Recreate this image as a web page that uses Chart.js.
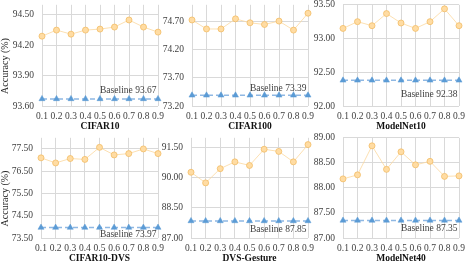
<!DOCTYPE html>
<html>
<head>
<meta charset="utf-8">
<script src="https://cdn.jsdelivr.net/npm/chart.js@4.4.1/dist/chart.umd.min.js"></script>
<style>
  html, body { margin: 0; padding: 0; background: #fff; }
  #wrap { position: relative; width: 465px; height: 263px; overflow: hidden; }
  #wrap canvas { position: absolute; }
</style>
</head>
<body>
<div id="wrap"></div>
<script>
// Datos
const xLabels = ['0.1', '0.2', '0.3', '0.4', '0.5', '0.6', '0.7', '0.8', '0.9'];
const datasetNames = ['CIFAR10', 'CIFAR100', 'ModelNet10', 'CIFAR10-DVS', 'DVS-Gesture', 'ModelNet40'];

const cifar10Acc    = [94.29, 94.35, 94.31, 94.35, 94.36, 94.38, 94.45, 94.38, 94.33];
const cifar100Acc   = [74.73, 74.57, 74.57, 74.75, 74.68, 74.65, 74.71, 74.55, 74.85];
const modelnet10Acc = [93.15, 93.25, 93.19, 93.37, 93.23, 93.15, 93.25, 93.44, 93.19];
const cifar10DvsAcc = [77.10, 76.87, 77.07, 77.03, 77.57, 77.23, 77.29, 77.50, 77.29];
const dvsGestureAcc = [90.28, 89.75, 90.46, 90.80, 90.62, 91.43, 91.32, 90.80, 91.66];
const modelnet40Acc = [88.18, 88.26, 88.84, 88.37, 88.72, 88.46, 88.53, 88.23, 88.24];

const baselines = [93.67, 73.39, 92.38, 73.97, 87.85, 87.35];

const yTicks = [
    [93.60, 93.90, 94.20, 94.50],
    [73.20, 73.70, 74.20, 74.70],
    [92.00, 92.50, 93.00, 93.50],
    [73.50, 74.50, 75.50, 76.50, 77.50],
    [87.00, 88.50, 90.00, 91.50],
    [87.00, 87.50, 88.00, 88.50, 89.00]
];
const yMins = [93.6, 73.2, 92.0, 73.5, 87.0, 87.0];
const yMaxs = [94.6, 75.0, 93.5, 78.0, 92.0, 89.0];

const accSeries = [cifar10Acc, cifar100Acc, modelnet10Acc, cifar10DvsAcc, dvsGestureAcc, modelnet40Acc];

// Geometría de cada panel (px)
const panels = [
    { left: 0,   top: 0,   yw: 42, pw: 116, ph: 102, dy: -8, ytitle: true },
    { left: 152, top: 0,   yw: 40, pw: 116, ph: 102, dy: -7 },
    { left: 303, top: 0,   yw: 40, pw: 116, ph: 102, dy: 14 },
    { left: 0,   top: 133, yw: 41, pw: 117, ph: 101, dy: 7, ytitle: true },
    { left: 151, top: 133, yw: 40, pw: 117, ph: 101, dy: 9 },
    { left: 303, top: 133, yw: 40, pw: 116, ph: 101, dy: 8 }
];
const TP = 4, RP = 10, XH = 26;
const FONT = 'Liberation Serif';

// Texto "Baseline" y título del eje Y
const annotate = {
    id: 'annotate',
    afterDatasetsDraw(chart, args, opts) {
        const ctx = chart.ctx;
        const a = chart.chartArea;
        const y = chart.scales.y.getPixelForValue(opts.value);
        ctx.save();
        ctx.font = '9.5px "' + FONT + '"';
        ctx.fillStyle = '#404040';
        ctx.textAlign = 'right';
        ctx.textBaseline = 'middle';
        ctx.fillText('Baseline ' + opts.value.toFixed(2), a.right - 1.5, y + opts.dy);
        if (opts.ytitle) {
            ctx.translate(5, chart.height / 2);
            ctx.rotate(-Math.PI / 2);
            ctx.textAlign = 'center';
            ctx.fillStyle = '#262626';
            ctx.font = '10px "' + FONT + '"';
            ctx.fillText('Accuracy (%)', 0, 0);
        }
        ctx.restore();
    }
};

const wrap = document.getElementById('wrap');

panels.forEach(function(p, i) {
    const canvas = document.createElement('canvas');
    const w = p.yw + p.pw + RP;
    const h = TP + p.ph + XH;
    canvas.width = w;
    canvas.height = h;
    canvas.style.left = p.left + 'px';
    canvas.style.top = p.top + 'px';
    canvas.style.width = w + 'px';
    canvas.style.height = h + 'px';
    wrap.appendChild(canvas);

    const ticks = yTicks[i];

    new Chart(canvas.getContext('2d'), {
        type: 'line',
        data: {
            labels: xLabels,
            datasets: [{
                data: accSeries[i],
                borderColor: '#fbd89e',
                borderWidth: 0.8,
                pointRadius: 3,
                pointBorderWidth: 0.8,
                pointBackgroundColor: '#ffdca3',
                pointBorderColor: '#f3bd66',
                clip: false
            }, {
                data: xLabels.map(() => baselines[i]),
                borderColor: '#8fb8e3',
                borderWidth: 1.5,
                borderDash: [5, 3],
                pointStyle: 'triangle',
                pointRadius: 3.5,
                pointBorderWidth: 0.5,
                pointBackgroundColor: '#5b9bd5',
                pointBorderColor: '#5b9bd5',
                clip: false
            }]
        },
        options: {
            responsive: false,
            animation: false,
            devicePixelRatio: 1,
            layout: { padding: { top: TP, right: RP, left: 0, bottom: 0 } },
            plugins: {
                legend: { display: false },
                tooltip: { enabled: false },
                annotate: { value: baselines[i], dy: p.dy, ytitle: !!p.ytitle }
            },
            scales: {
                x: {
                    type: 'category',
                    offset: false,
                    grid: { color: '#d9d9d9', drawTicks: false, offset: false },
                    border: { display: false },
                    ticks: {
                        color: '#404040',
                        font: { family: FONT, size: 9.5 },
                        padding: 5,
                        maxRotation: 0,
                        autoSkip: false
                    },
                    title: {
                        display: true,
                        text: datasetNames[i],
                        color: '#111',
                        font: { family: FONT, size: 9.5, weight: 'bold' },
                        padding: 0
                    },
                    afterFit(s) {
                        s.height = XH;
                        s.paddingLeft = 0;
                        s.paddingRight = 0;
                    }
                },
                y: {
                    min: yMins[i],
                    max: yMaxs[i],
                    afterBuildTicks(s) {
                        s.ticks = ticks.map(v => ({ value: v }));
                    },
                    grid: { color: '#d9d9d9', drawTicks: false },
                    border: { display: false },
                    ticks: {
                        color: '#404040',
                        font: { family: FONT, size: 9.5 },
                        padding: 8,
                        callback: v => Number(v).toFixed(2)
                    },
                    afterFit(s) {
                        s.width = p.yw;
                        s.paddingTop = 0;
                        s.paddingBottom = 0;
                    }
                }
            }
        },
        plugins: [annotate]
    });
});
</script>
</body>
</html>
